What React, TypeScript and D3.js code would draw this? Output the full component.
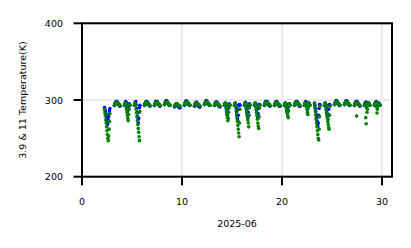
import React from "react";
import * as d3 from "d3";

const dayNumbers = [2, 3, 4, 5, 6, 7, 8, 9, 10, 11, 12, 13, 14, 15, 16, 17, 18, 19, 20, 21, 22, 23, 24, 25, 26, 27, 28, 29];
const sampleHours = [6, 7, 8, 9, 10, 11, 12, 13, 14, 15, 16, 17, 18, 19];

const t39Values: number[][] = [
  [290, 288, 285, 282, 279, 276, 272, 268, 270, 274, 278, 282, 286, 289],
  [293, 295, 296, 297, 298, 298, 298, 297, 296, 295, 294, 293, 293, 292],
  [293, 295, 297, 298, 296, 292, 288, 285, 287, 290, 293, 295, 294, 293],
  [293, 295, 297, 298, 294, 289, 284, 279, 274, 270, 276, 284, 290, 293],
  [293, 295, 296, 297, 298, 298, 298, 297, 296, 295, 294, 293, 293, 292],
  [293, 295, 296, 298, 298, 298, 298, 297, 296, 295, 294, 293, 293, 292],
  [294, 295, 297, 298, 299, 299, 298, 297, 296, 295, 294, 294, 293, 293],
  [291, 292, 293, 294, 295, 295, 294, 293, 293, 292, 291, 291, 290, 290],
  [293, 295, 297, 298, 299, 298, 298, 297, 296, 295, 294, 294, 293, 293],
  [292, 293, 295, 296, 297, 297, 296, 295, 294, 293, 292, 292, 291, 291],
  [294, 295, 297, 298, 299, 299, 298, 297, 296, 295, 294, 294, 293, 293],
  [293, 294, 296, 297, 297, 297, 297, 296, 295, 294, 293, 292, 292, 291],
  [293, 295, 296, 295, 291, 287, 283, 280, 284, 289, 293, 295, 294, 293],
  [293, 295, 296, 294, 290, 285, 280, 276, 273, 280, 288, 293, 294, 293],
  [293, 295, 297, 296, 292, 288, 284, 280, 277, 284, 290, 294, 295, 293],
  [293, 295, 296, 295, 291, 287, 283, 279, 276, 282, 289, 294, 294, 293],
  [293, 295, 297, 298, 298, 298, 298, 297, 296, 295, 294, 293, 293, 292],
  [293, 294, 296, 297, 298, 298, 297, 296, 295, 294, 294, 293, 292, 292],
  [293, 295, 296, 295, 292, 289, 286, 284, 287, 291, 294, 295, 294, 293],
  [293, 295, 296, 297, 298, 298, 298, 297, 296, 295, 294, 293, 292, 292],
  [293, 295, 297, 298, 297, 294, 291, 288, 291, 294, 296, 295, 294, 293],
  [296, 293, 289, 285, 281, 277, 273, 269, 266, 270, 280, 289, 294, 294],
  [293, 295, 296, 294, 290, 286, 282, 278, 275, 281, 288, 293, 294, 293],
  [294, 295, 297, 298, 299, 299, 298, 297, 296, 295, 294, 294, 293, 293],
  [294, 295, 297, 298, 299, 299, 298, 297, 296, 295, 294, 294, 293, 293],
  [293, 295, 296, 297, 298, 298, 298, 297, 296, 295, 294, 293, 293, 292],
  [293, 295, 296, 297, 297, 296, 294, 293, 294, 295, 296, 295, 294, 293],
  [293, 295, 296, 297, 298, 296, 292, 292, 294, 296, 296, 295, 294, 293],
];

const t11Values: number[][] = [
  [288, 283, 279, 274, 270, 265, 260, 255, 250, 247, 253, 262, 272, 282],
  [293, 294, 295, 296, 297, 297, 297, 296, 296, 295, 295, 294, 294, 293],
  [293, 295, 296, 296, 292, 288, 284, 280, 276, 273, 281, 288, 293, 294],
  [293, 295, 296, 293, 288, 283, 278, 273, 268, 263, 258, 252, 247, 285],
  [293, 294, 295, 296, 297, 297, 297, 296, 296, 295, 294, 294, 293, 293],
  [293, 294, 295, 296, 297, 297, 297, 296, 296, 295, 295, 294, 294, 293],
  [294, 295, 296, 297, 298, 298, 297, 297, 296, 296, 295, 294, 294, 293],
  [292, 293, 294, 294, 295, 295, 295, 294, 294, 293, 293, 292, 292, 292],
  [294, 295, 296, 297, 298, 297, 297, 297, 296, 296, 295, 294, 294, 293],
  [293, 294, 295, 295, 296, 296, 296, 295, 295, 294, 294, 293, 293, 292],
  [294, 295, 296, 297, 298, 298, 297, 297, 296, 295, 295, 294, 294, 293],
  [293, 294, 295, 296, 296, 296, 296, 295, 295, 294, 294, 293, 293, 292],
  [293, 295, 296, 293, 289, 285, 281, 277, 273, 276, 284, 290, 294, 294],
  [293, 295, 296, 292, 287, 282, 277, 272, 267, 262, 257, 252, 270, 288],
  [293, 295, 296, 294, 290, 286, 282, 278, 274, 270, 265, 280, 290, 294],
  [293, 295, 296, 292, 288, 284, 280, 275, 270, 266, 263, 278, 290, 294],
  [293, 294, 295, 296, 297, 297, 297, 296, 296, 295, 295, 294, 294, 293],
  [293, 294, 295, 296, 297, 297, 296, 296, 295, 295, 294, 294, 293, 293],
  [293, 295, 296, 294, 291, 288, 285, 282, 279, 277, 286, 292, 295, 294],
  [293, 294, 295, 296, 297, 297, 297, 296, 296, 295, 294, 294, 293, 293],
  [293, 295, 296, 296, 295, 292, 288, 284, 281, 290, 295, 296, 294, 293],
  [295, 290, 285, 280, 275, 270, 265, 260, 255, 250, 248, 262, 278, 292],
  [293, 295, 296, 292, 288, 284, 280, 276, 272, 268, 264, 262, 280, 292],
  [294, 295, 296, 297, 298, 298, 297, 297, 296, 296, 295, 294, 294, 293],
  [294, 295, 296, 297, 298, 298, 297, 297, 296, 295, 295, 294, 294, 293],
  [293, 294, 295, 296, 297, 279, 297, 296, 296, 295, 294, 294, 293, 293],
  [293, 295, 296, 277, 269, 290, 284, 288, 293, 295, 296, 295, 294, 293],
  [293, 295, 296, 296, 297, 291, 283, 288, 294, 296, 295, 294, 294, 293],
];

const xTicks = [0, 10, 20, 30];
const yTicks = [200, 300, 400];
const xLabel = "2025-06";
const yLabel = "3.9 & 11 Temperature(K)";

const W = 411;
const H = 248;
const FONT = "DejaVu Sans";

export default function App() {
  const left = 82, right = 392, top = 23.3, bottom = 176.7;
  const x = d3.scaleLinear().domain([0, 31]).range([left, right]);
  const y = d3.scaleLinear().domain([200, 400]).range([bottom, top]);
  const toPoints = (vals: number[][]) =>
    dayNumbers.flatMap((d, i) => sampleHours.map((h, j) => ({ t: d + h / 24, v: vals[i][j] })));
  const blue = toPoints(t39Values);
  const green = toPoints(t11Values);
  const tickLen = 8.5;
  const fs = 9.5;
  const r = 1.8;

  return (
    <svg width={W} height={H} style={{ position: "absolute", left: 0, top: 0, background: "#fff" }}>
      <rect x={0} y={0} width={W} height={H} fill="#fff" />
      {xTicks.map((t) => (
        <line key={"gx" + t} x1={x(t)} x2={x(t)} y1={top} y2={bottom} stroke="#ebebeb" strokeWidth={2} />
      ))}
      {yTicks.map((t) => (
        <line key={"gy" + t} x1={left} x2={right} y1={y(t)} y2={y(t)} stroke="#ebebeb" strokeWidth={2} />
      ))}
      <g fill="#0000ff">
        {blue.map((p, i) => (
          <circle key={"b" + i} cx={x(p.t)} cy={y(p.v)} r={r} />
        ))}
      </g>
      <g fill="#008000">
        {green.map((p, i) => (
          <circle key={"g" + i} cx={x(p.t)} cy={y(p.v)} r={r} />
        ))}
      </g>
      <rect x={left} y={top} width={right - left} height={bottom - top} fill="none" stroke="#000" strokeWidth={2} />
      {xTicks.map((t) => (
        <g key={"xt" + t}>
          <line x1={x(t)} x2={x(t)} y1={bottom} y2={bottom + tickLen} stroke="#000" strokeWidth={2} />
          <text x={x(t)} y={204.5} textAnchor="middle" fontFamily={FONT} fontSize={fs} fill="#000">
            {t}
          </text>
        </g>
      ))}
      {yTicks.map((t) => (
        <g key={"yt" + t}>
          <line x1={left - tickLen} x2={left} y1={y(t)} y2={y(t)} stroke="#000" strokeWidth={2} />
          <text x={63} y={y(t) + 3.5} textAnchor="end" fontFamily={FONT} fontSize={fs} fill="#000">
            {t}
          </text>
        </g>
      ))}
      <text x={(left + right) / 2} y={227} textAnchor="middle" fontFamily={FONT} fontSize={fs} fill="#000">
        {xLabel}
      </text>
      <text
        transform={`translate(26, ${(top + bottom) / 2}) rotate(-90)`}
        textAnchor="middle"
        fontFamily={FONT}
        fontSize={fs}
        fill="#000"
      >
        {yLabel}
      </text>
    </svg>
  );
}
